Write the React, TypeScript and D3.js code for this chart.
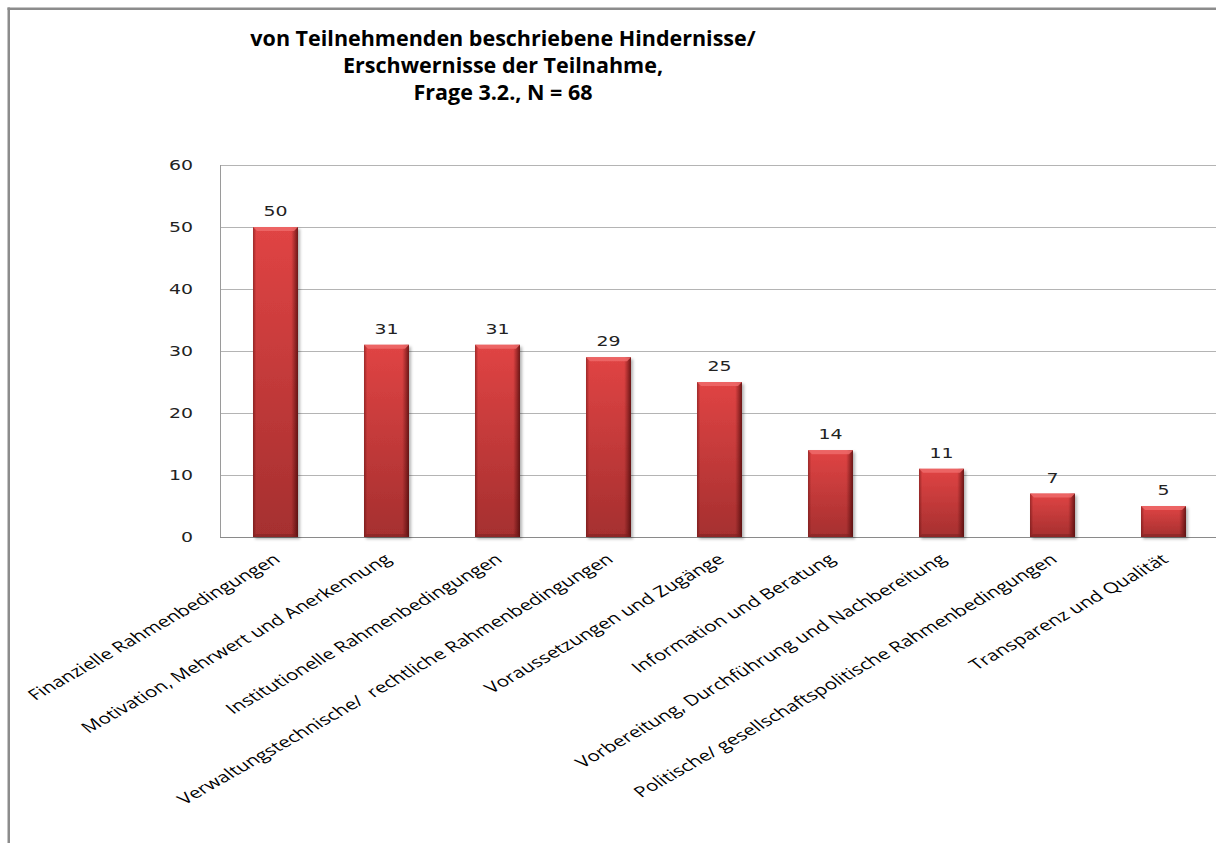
import React from "react";
import { scaleBand, scaleLinear } from "d3";

const categories = [
  "Finanzielle Rahmenbedingungen",
  "Motivation, Mehrwert und Anerkennung",
  "Institutionelle Rahmenbedingungen",
  "Verwaltungstechnische/  rechtliche Rahmenbedingungen",
  "Voraussetzungen und Zugänge",
  "Information und Beratung",
  "Vorbereitung, Durchführung und Nachbereitung",
  "Politische/ gesellschaftspolitische Rahmenbedingungen",
  "Transparenz und Qualität",
];
const counts = [50, 31, 31, 29, 25, 14, 11, 7, 5];
const yTicks = [0, 10, 20, 30, 40, 50, 60];
const titleLines = [
  "von Teilnehmenden beschriebene Hindernisse/",
  "Erschwernisse der Teilnahme,",
  "Frage 3.2., N = 68",
];

const W = 1218;
const H = 843;
// the picture looks stretched sideways, so text is too
const SX = 1.4;

const App = () => {
  const x = scaleBand<string>()
    .domain(categories)
    .range([220, 1219])
    .paddingInner(0.595)
    .paddingOuter(0.2975);
  const y = scaleLinear().domain([0, 60]).range([537, 165]);
  const bw = x.bandwidth();
  const numFont = "'DejaVu Sans', Verdana, sans-serif";
  const right = W - 2;

  return (
    <div style={{ position: "absolute", left: 0, top: 0, width: W, height: H, overflow: "hidden" }}>
      <svg width={W} height={H} style={{ display: "block", background: "#fff" }}>
        <defs>
          <linearGradient id="barV" x1="0" y1="0" x2="0" y2="1">
            <stop offset="0%" stopColor="#e04444" />
            <stop offset="100%" stopColor="#a52f2f" />
          </linearGradient>
          <linearGradient id="barH" x1="0" y1="0" x2="1" y2="0">
            <stop offset="0%" stopColor="#4a0505" stopOpacity={0.45} />
            <stop offset="7%" stopColor="#4a0505" stopOpacity={0} />
            <stop offset="85%" stopColor="#4a0505" stopOpacity={0} />
            <stop offset="100%" stopColor="#3a0303" stopOpacity={0.7} />
          </linearGradient>
          <filter id="shadow" x="-20%" y="-10%" width="150%" height="130%">
            <feDropShadow dx="2" dy="2" stdDeviation="1.5" floodColor="#000" floodOpacity="0.3" />
          </filter>
        </defs>

        {/* frame, only left and top show */}
        <line x1={8.75} x2={8.75} y1={7.5} y2={H} stroke="#8c8c8c" strokeWidth={2.5} />
        <line x1={7.5} x2={right} y1={8.75} y2={8.75} stroke="#8c8c8c" strokeWidth={2.5} />

        {/* title */}
        <g fontFamily="'Open Sans', sans-serif" fontWeight="bold" fontSize={21.5} fill="#000" textAnchor="middle">
          {titleLines.map((t, i) => (
            <text key={i} x={503} y={46 + i * 27}>{t}</text>
          ))}
        </g>

        {/* grid */}
        {yTicks.map((t) => (
          <line key={t} x1={220} x2={right} y1={y(t) + 0.5} y2={y(t) + 0.5}
            stroke={t === 0 ? "#8a8a8a" : "#b4b4b4"} strokeWidth={1} />
        ))}
        <line x1={220.5} x2={220.5} y1={y(60)} y2={y(0)} stroke="#9a9a9a" />

        {/* y tick labels */}
        {yTicks.map((t) => (
          <text key={t} transform={`translate(193,${y(t) + 4.5}) scale(${SX},1)`}
            textAnchor="end" fontFamily={numFont} fontSize={13.5} fill="#222">{t}</text>
        ))}

        {/* bars */}
        {categories.map((c, i) => {
          const bx = x(c)!;
          const top = y(counts[i]);
          const h = y(0) - top;
          return (
            <g key={c}>
              <rect x={bx} y={top} width={bw} height={h} fill="url(#barV)" filter="url(#shadow)" />
              <rect x={bx} y={top} width={bw} height={h} fill="url(#barH)" />
              <path d={`M${bx},${top}L${bx + bw},${top}L${bx + bw - 4},${top + 4}L${bx + 4},${top + 4}Z`}
                fill="#ee6a6a" opacity={0.85} />
              <path d={`M${bx},${top + h}L${bx + bw},${top + h}L${bx + bw - 3},${top + h - 3}L${bx + 3},${top + h - 3}Z`}
                fill="#7a1f1f" opacity={0.5} />
              <text transform={`translate(${bx + bw / 2},${top - 11}) scale(${SX},1)`}
                textAnchor="middle" fontFamily={numFont} fontSize={13.5} fill="#222">{counts[i]}</text>
            </g>
          );
        })}

        {/* x labels */}
        {categories.map((c) => (
          <text key={c}
            transform={`translate(${x(c)! + bw / 2 - 3},553) scale(${SX},1) rotate(-38.5)`}
            textAnchor="end" dy="0.7em" fontFamily="'Open Sans', sans-serif" fontSize={14.8}
            fill="#000" style={{ whiteSpace: "pre" }}>{c}</text>
        ))}
      </svg>
    </div>
  );
};

export default App;
